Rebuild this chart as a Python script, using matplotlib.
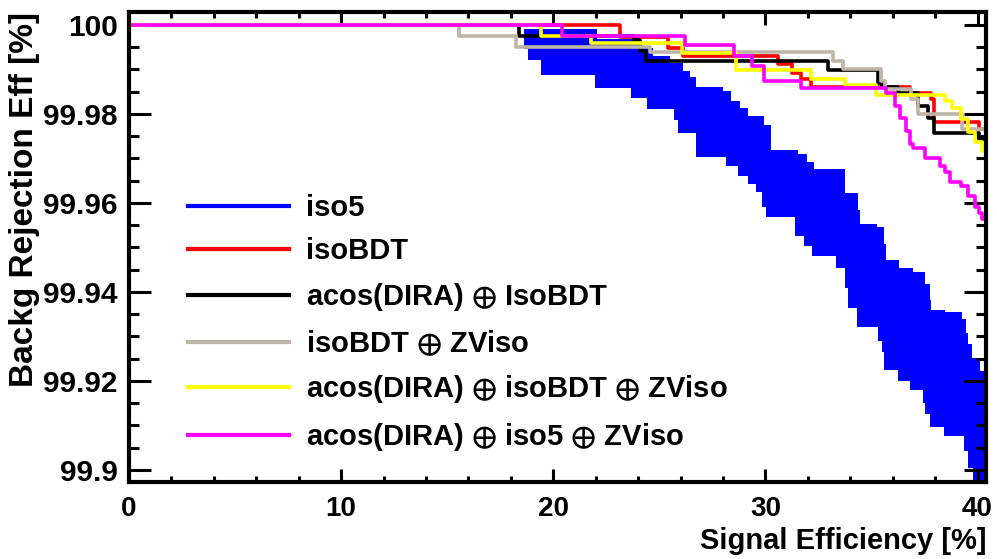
import matplotlib
matplotlib.use("Agg")
import matplotlib.pyplot as plt
from matplotlib.lines import Line2D
from matplotlib.ticker import MultipleLocator, FuncFormatter

plt.rcParams['font.family'] = ['Liberation Sans', 'DejaVu Sans']
plt.rcParams['font.weight'] = 'bold'
plt.rcParams['mathtext.fontset'] = 'stix'

# Signal efficiency [%] / background rejection [%]
# iso5 : upper and lower edge of the blue band (step points)
iso5_up_x = [0.0, 18.63, 22.07, 24.00, 24.71, 25.51, 26.11, 26.45, 26.73, 28.00, 28.37, 28.80,
             29.17, 29.93, 30.26, 31.53, 31.96, 32.28, 33.74, 34.35, 34.45, 35.25, 35.57, 35.67,
             36.28, 36.94, 37.51, 37.74, 37.83, 38.45, 39.25, 39.44, 39.53, 39.76, 40.14, 40.4]
iso5_up_y = [100.0, 99.9990, 99.9969, 99.9947, 99.9931, 99.9915, 99.9897, 99.9883, 99.9861, 99.9852,
             99.9829, 99.9813, 99.9795, 99.9775, 99.9720, 99.9711, 99.9693, 99.9677, 99.9623, 99.9584,
             99.9553, 99.9546, 99.9507, 99.9471, 99.9453, 99.9444, 99.9417, 99.9381, 99.9360, 99.9355,
             99.9340, 99.9308, 99.9283, 99.9251, 99.9222, 99.9199]
iso5_lo_x = [0.0, 18.63, 18.82, 19.43, 21.98, 23.67, 24.43, 25.69, 25.88, 26.73, 28.14, 28.71,
             29.17, 29.56, 29.84, 30.02, 31.39, 31.82, 32.19, 33.32, 33.74, 33.89, 34.31, 35.30,
             35.48, 35.57, 36.24, 36.84, 37.41, 37.51, 37.74, 38.40, 39.34, 39.53, 39.81, 40.00, 40.4]
iso5_lo_y = [100.0, 99.9945, 99.9922, 99.9888, 99.9858, 99.9836, 99.9811, 99.9786, 99.9757, 99.9704,
             99.9684, 99.9661, 99.9643, 99.9625, 99.9591, 99.9569, 99.9525, 99.9503, 99.9480, 99.9453,
             99.9410, 99.9365, 99.9322, 99.9290, 99.9265, 99.9225, 99.9200, 99.9180, 99.9150, 99.9125,
             99.9097, 99.9077, 99.9043, 99.9004, 99.8973, 99.8950, 99.8950]

isobdt_x = [0.0, 23.16, 25.41, 26.11, 30.59, 31.25, 31.68, 32.14, 36.80, 37.79, 37.97, 40.09, 40.4]
isobdt_y = [100.0, 99.9972, 99.9949, 99.9931, 99.9913, 99.9892, 99.9879, 99.9861, 99.9847, 99.9834,
            99.9781, 99.9766, 99.9766]

dira_isobdt_x = [0.0, 18.40, 23.81, 24.09, 24.38, 32.94, 35.29, 35.48, 36.24, 37.18, 37.65, 37.93,
                 40.09, 40.4]
dira_isobdt_y = [100.0, 99.9974, 99.9965, 99.9942, 99.9920, 99.9899, 99.9870, 99.9861, 99.9847,
                 99.9818, 99.9790, 99.9757, 99.9743, 99.9743]

isobdt_zviso_x = [0.0, 15.58, 18.26, 24.56, 33.18, 33.65, 35.44, 35.62, 36.85, 37.18, 39.29, 40.4]
isobdt_zviso_y = [100.0, 99.9974, 99.9951, 99.9940, 99.9920, 99.9901, 99.9874, 99.9856, 99.9834,
                  99.9800, 99.9766, 99.9766]

dira_isobdt_zviso_x = [0.0, 19.43, 21.79, 26.07, 28.61, 32.14, 33.74, 35.20, 38.45, 38.82, 39.20,
                       39.53, 39.90, 40.19, 40.4]
dira_isobdt_zviso_y = [100.0, 99.9976, 99.9960, 99.9938, 99.9899, 99.9879, 99.9865, 99.9843, 99.9829,
                       99.9813, 99.9788, 99.9759, 99.9738, 99.9716, 99.9716]

dira_iso5_zviso_x = [0.0, 20.42, 26.21, 28.52, 29.36, 29.93, 31.68, 35.67, 36.10, 36.33, 36.61,
                     36.84, 36.94, 37.51, 38.22, 38.45, 38.68, 39.20, 39.53, 39.90, 40.05, 40.2, 40.4]
dira_iso5_zviso_y = [100.0, 99.9974, 99.9954, 99.9931, 99.9908, 99.9874, 99.9858, 99.9847, 99.9818,
                     99.9790, 99.9761, 99.9732, 99.9723, 99.9700, 99.9682, 99.9670, 99.9648, 99.9639,
                     99.9616, 99.9591, 99.9578, 99.9564, 99.9562]

labels = ['iso5', 'isoBDT',
          r'acos(DIRA) $\oplus$ IsoBDT',
          r'isoBDT $\oplus$ ZViso',
          r'acos(DIRA) $\oplus$ isoBDT $\oplus$ ZViso',
          r'acos(DIRA) $\oplus$ iso5 $\oplus$ ZViso']
colors = ['#0000ff', '#ff0000', '#000000', '#bdb5a8', '#ffff00', '#ff00ff']


def step_path(xs, ys):
    # post-style step outline of a curve
    px, py = [xs[0]], [ys[0]]
    for i in range(1, len(xs)):
        px += [xs[i], xs[i]]
        py += [ys[i - 1], ys[i]]
    return px, py


fig = plt.figure(figsize=(9.97, 5.59), dpi=100)
ax = fig.add_axes([129 / 997, 1 - 482 / 559, (986 - 129) / 997, (482 - 12) / 559])

# blue band for iso5
ux, uy = step_path(iso5_up_x, iso5_up_y)
lx, ly = step_path(iso5_lo_x, iso5_lo_y)
ax.fill(ux + lx[::-1], uy + ly[::-1], color=colors[0], lw=0)

curves = [(isobdt_x, isobdt_y), (dira_isobdt_x, dira_isobdt_y),
          (isobdt_zviso_x, isobdt_zviso_y), (dira_isobdt_zviso_x, dira_isobdt_zviso_y),
          (dira_iso5_zviso_x, dira_iso5_zviso_y)]
for (xs, ys), c in zip(curves, colors[1:]):
    ax.step(xs, ys, where='post', color=c, lw=2.6)

ax.set_xlim(0, 40.4)
ax.set_ylim(99.8973, 100.0029)

ax.xaxis.set_major_locator(MultipleLocator(10))
ax.xaxis.set_minor_locator(MultipleLocator(2))
ax.yaxis.set_major_locator(MultipleLocator(0.02))
ax.yaxis.set_minor_locator(MultipleLocator(0.005))
ax.yaxis.set_major_formatter(FuncFormatter(lambda v, p: f"{v:.2f}".rstrip('0').rstrip('.')))

ax.tick_params(axis='both', which='both', direction='in', top=True, right=True, width=2.2)
ax.tick_params(axis='x', which='major', length=9.5, labelsize=20, pad=10)
ax.tick_params(axis='x', which='minor', length=4.5)
ax.tick_params(axis='y', which='major', length=16, labelsize=21.5, pad=8)
ax.tick_params(axis='y', which='minor', length=7.5)
for s in ax.spines.values():
    s.set_linewidth(3)

ax.set_xlabel('Signal Efficiency [%]', fontsize=21, fontweight='bold', loc='right', labelpad=4)
ax.set_ylabel('Backg Rejection Eff [%]', fontsize=24, fontweight='bold', loc='top', labelpad=2)

handles = [Line2D([], [], color=c, lw=3) for c in colors]
ax.legend(handles, labels, loc='upper left', bbox_to_anchor=(188 / 997, 1 - 194 / 559),
          bbox_transform=fig.transFigure, frameon=False, fontsize=21, handlelength=3.45,
          handletextpad=0.58, labelspacing=0.53, borderpad=0, borderaxespad=0)

fig.savefig('out.png', dpi=100)
